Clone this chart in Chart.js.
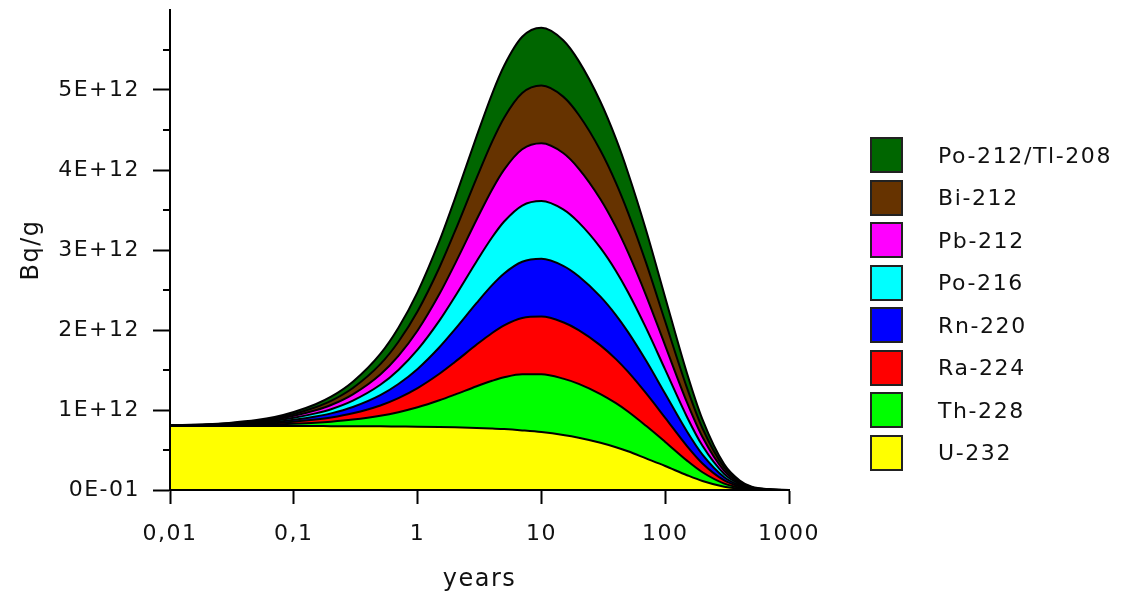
<!DOCTYPE html>
<html>
<head>
<meta charset="utf-8">
<script src="https://cdn.jsdelivr.net/npm/chart.js@4.4.1/dist/chart.umd.min.js"></script>
<style>
  html, body { margin: 0; padding: 0; background: #fff; }
  #wrap { position: relative; width: 1129px; height: 596px; }
  #chartCanvas { position: absolute; left: 0; top: 0; }
  #nuclideList {
    position: absolute; left: 870px; top: 137px; margin: 0; padding: 0; list-style: none;
    font-family: "DejaVu Sans", sans-serif; font-size: 22px; letter-spacing: 1.6px; color: #111;
  }
  #nuclideList li { display: flex; align-items: center; height: 36px; margin-bottom: 6.5px; }
  #nuclideList li span {
    display: inline-block; width: 33px; height: 36px; box-sizing: border-box;
    border: 2px solid #222; margin-right: 35px;
  }
</style>
</head>
<body>
<div id="wrap">
  <canvas id="chartCanvas" width="1129" height="596"></canvas>
  <ul id="nuclideList"></ul>
</div>
<script>
// 시간 (years)
const years = [0.01, 0.02, 0.03, 0.05, 0.07, 0.1, 0.15, 0.2, 0.3, 0.5, 0.7, 1, 1.5, 2, 3, 4, 5, 7, 10,
  15, 20, 30, 40, 50, 70, 100, 150, 200, 300, 400, 500, 700, 1000];

// 방사능 (단위 1E+12 Bq/g)
const u232 = [0.800, 0.800, 0.800, 0.800, 0.799, 0.799, 0.799, 0.798, 0.798, 0.796, 0.794, 0.792, 0.788, 0.784, 0.776, 0.768, 0.761, 0.745, 0.724,
  0.688, 0.654, 0.591, 0.535, 0.484, 0.395, 0.300, 0.185, 0.112, 0.040, 0.014, 0.005, 0.001, 0.000];
const th228 = [0.003, 0.006, 0.009, 0.014, 0.020, 0.029, 0.042, 0.056, 0.082, 0.132, 0.179, 0.242, 0.333, 0.408, 0.521, 0.597, 0.648, 0.702, 0.722,
  0.704, 0.672, 0.608, 0.550, 0.497, 0.407, 0.301, 0.182, 0.110, 0.040, 0.015, 0.005, 0.001, 0.000];
const ra224 = [0.001, 0.003, 0.005, 0.010, 0.016, 0.025, 0.039, 0.052, 0.079, 0.129, 0.176, 0.240, 0.332, 0.408, 0.521, 0.598, 0.649, 0.703, 0.722,
  0.705, 0.673, 0.609, 0.551, 0.498, 0.408, 0.301, 0.182, 0.110, 0.040, 0.015, 0.005, 0.001, 0.000];
const rn220 = [0.001, 0.003, 0.005, 0.010, 0.016, 0.025, 0.039, 0.052, 0.079, 0.129, 0.176, 0.240, 0.332, 0.408, 0.521, 0.598, 0.649, 0.703, 0.722,
  0.705, 0.673, 0.609, 0.551, 0.498, 0.408, 0.301, 0.182, 0.110, 0.040, 0.015, 0.005, 0.001, 0.000];
const po216 = [0.001, 0.003, 0.005, 0.010, 0.016, 0.025, 0.039, 0.052, 0.079, 0.129, 0.176, 0.240, 0.332, 0.408, 0.521, 0.598, 0.649, 0.703, 0.722,
  0.705, 0.673, 0.609, 0.551, 0.498, 0.408, 0.301, 0.182, 0.110, 0.040, 0.015, 0.005, 0.001, 0.000];
const pb212 = [0.001, 0.002, 0.005, 0.010, 0.015, 0.024, 0.038, 0.052, 0.079, 0.129, 0.176, 0.240, 0.332, 0.408, 0.521, 0.598, 0.649, 0.703, 0.722,
  0.705, 0.673, 0.609, 0.551, 0.498, 0.408, 0.301, 0.182, 0.110, 0.040, 0.015, 0.005, 0.001, 0.000];
const bi212 = [0.001, 0.002, 0.005, 0.010, 0.015, 0.024, 0.038, 0.052, 0.079, 0.129, 0.176, 0.240, 0.332, 0.408, 0.521, 0.598, 0.649, 0.703, 0.722,
  0.705, 0.673, 0.609, 0.551, 0.498, 0.408, 0.301, 0.182, 0.110, 0.040, 0.015, 0.005, 0.001, 0.000];
const po212tl208 = [0.001, 0.002, 0.005, 0.010, 0.015, 0.024, 0.038, 0.052, 0.079, 0.129, 0.176, 0.240, 0.332, 0.408, 0.521, 0.598, 0.649, 0.703, 0.722,
  0.705, 0.673, 0.609, 0.551, 0.498, 0.408, 0.301, 0.182, 0.110, 0.040, 0.015, 0.005, 0.001, 0.000];

// 아래에서 위로 쌓이는 순서
const nuclides = ["U-232", "Th-228", "Ra-224", "Rn-220", "Po-216", "Pb-212", "Bi-212", "Po-212/Tl-208"];
const seriesList = [u232, th228, ra224, rn220, po216, pb212, bi212, po212tl208];
const bgColor = ["#FFFF00", "#00FF00", "#FF0000", "#0000FF", "#00FFFF", "#FF00FF", "#663300", "#006600"];

// 축 눈금
const xTickValues = [0.01, 0.1, 1, 10, 100, 1000];
const xTickLabels = ["0,01", "0,1", "1", "10", "100", "1000"];
const yTickValues = [0, 1, 2, 3, 4, 5];
const yTickLabels = ["0E-01", "1E+12", "2E+12", "3E+12", "4E+12", "5E+12"];
const yMinorValues = [0.5, 1.5, 2.5, 3.5, 4.5, 5.5];

// 범례 (위쪽 계열부터)
const listElem = document.getElementById("nuclideList");
nuclides.forEach((label, idx) => {
  const li = document.createElement("li");
  const badge = document.createElement("span");
  li.textContent = label;
  li.prepend(badge);
  badge.style.backgroundColor = bgColor[idx];
  listElem.prepend(li);
});

// 보조 눈금 + 글자 간격
const axisExtras = {
  id: "axisExtras",
  beforeDraw(chart) {
    chart.ctx.letterSpacing = "1.5px";
  },
  afterDraw(chart) {
    const { ctx, chartArea, scales } = chart;
    ctx.save();
    ctx.strokeStyle = "#000";
    ctx.lineWidth = 2;
    yMinorValues.forEach((v) => {
      const py = Math.round(scales.y.getPixelForValue(v));
      ctx.beginPath();
      ctx.moveTo(chartArea.left - 7, py);
      ctx.lineTo(chartArea.left, py);
      ctx.stroke();
    });
    ctx.restore();
  },
};

const tickFont = { family: "DejaVu Sans", size: 22 };
const titleFont = { family: "DejaVu Sans", size: 24 };

const datasets = nuclides.map((label, idx) => ({
  label: label,
  data: years.map((t, i) => ({ x: t, y: seriesList[idx][i] })),
  backgroundColor: bgColor[idx],
  borderColor: "#000",
  borderWidth: 2,
  pointRadius: 0,
  cubicInterpolationMode: "monotone",
  fill: idx === 0 ? "origin" : "-1",
}));

new Chart(document.getElementById("chartCanvas"), {
  type: "line",
  data: { datasets: datasets },
  options: {
    responsive: false,
    animation: false,
    layout: { padding: { top: 10, right: 340, bottom: 0, left: 0 } },
    plugins: { legend: { display: false }, tooltip: { enabled: false } },
    scales: {
      x: {
        type: "logarithmic",
        min: 0.01,
        max: 1000,
        afterBuildTicks: (scale) => {
          scale.ticks = xTickValues.map((v) => ({ value: v, major: true }));
        },
        afterFit: (scale) => {
          scale.height = 106;
          scale.paddingLeft = 0;
          scale.paddingRight = 0;
        },
        ticks: {
          autoSkip: false,
          maxRotation: 0,
          padding: 17,
          color: "#111",
          font: tickFont,
          callback: (value, index) => xTickLabels[index],
        },
        grid: { drawOnChartArea: false, tickLength: 14, tickWidth: 2, tickColor: "#000", z: 1 },
        border: { display: true, color: "#000", width: 2, z: 1 },
        title: { display: true, text: "years", color: "#111", font: titleFont, padding: { top: 0, bottom: 2 } },
      },
      y: {
        stacked: true,
        min: 0,
        max: 6,
        afterBuildTicks: (scale) => {
          scale.ticks = yTickValues.map((v) => ({ value: v }));
        },
        afterFit: (scale) => {
          scale.width = 170;
          scale.paddingTop = 0;
          scale.paddingBottom = 0;
        },
        ticks: {
          padding: 13,
          color: "#111",
          font: tickFont,
          callback: (value, index) => yTickLabels[index],
        },
        grid: { drawOnChartArea: false, tickLength: 17, tickWidth: 2, tickColor: "#000", z: 1 },
        border: { display: true, color: "#000", width: 2, z: 1 },
        title: { display: true, text: "Bq/g", color: "#111", font: titleFont, padding: { top: 17, bottom: 0 } },
      },
    },
  },
  plugins: [axisExtras],
});
</script>
</body>
</html>
